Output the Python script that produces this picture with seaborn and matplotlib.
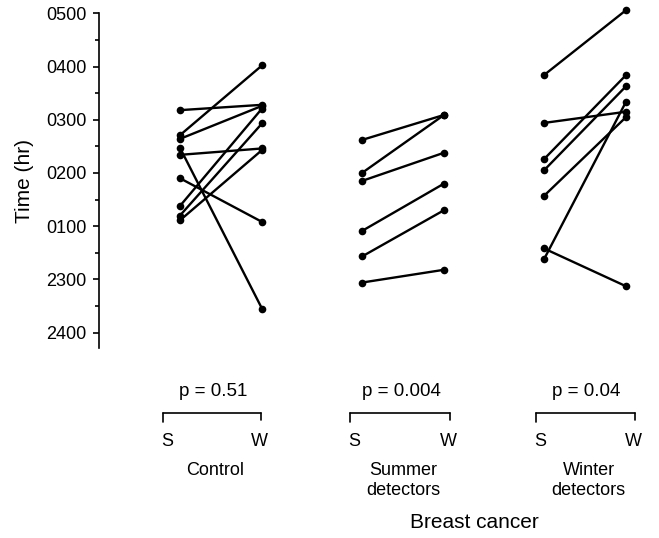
import numpy as np
import pandas as pd
import matplotlib.pyplot as plt
import seaborn as sns
from matplotlib.lines import Line2D

sns.set_style('ticks')
plt.rcParams['font.family'] = ['Liberation Sans', 'DejaVu Sans']
plt.rcParams['text.color'] = 'black'
plt.rcParams['axes.labelcolor'] = 'black'
plt.rcParams['ytick.color'] = 'black'
plt.rcParams['axes.edgecolor'] = 'black'

# clock time in axis units (0500 = 5 ... "2300" = 0, "2400" = -1)
groups = ['Control', 'Summer\ndetectors', 'Winter\ndetectors']
p_values = ['p = 0.51', 'p = 0.004', 'p = 0.04']
control_s = [3.18, 2.71, 2.64, 2.34, 2.47, 1.90, 1.38, 1.20, 1.11]
control_w = [3.28, 4.02, 3.26, 2.46, -0.55, 1.08, 3.21, 2.93, 2.43]
summer_s = [2.62, 2.00, 1.85, 0.91, 0.43, -0.06]
summer_w = [3.09, 3.09, 2.38, 1.80, 1.30, 0.18]
winter_s = [3.84, 2.94, 2.26, 2.05, 1.57, 0.58, 0.38]
winter_w = [5.06, 3.15, 3.84, 3.63, 3.05, -0.13, 3.34]
yticks = [5, 4, 3, 2, 1, 0, -1]
ytick_labels = ['0500', '0400', '0300', '0200', '0100', '2300', '2400']

rows = []
pairs = [(control_s, control_w), (summer_s, summer_w), (winter_s, winter_w)]
gap = 2.22
for g, (s_vals, w_vals) in enumerate(pairs):
    for i, (s, w) in enumerate(zip(s_vals, w_vals)):
        uid = f'{g}-{i}'
        rows.append({'id': uid, 'x': g * gap, 'time': s})
        rows.append({'id': uid, 'x': g * gap + 1, 'time': w})
df = pd.DataFrame(rows)

W, H = 659, 538
fig = plt.figure(figsize=(W / 100, H / 100), dpi=100)
ax = fig.add_axes([99 / W, (H - 348) / H, (655 - 99) / W, (348 - 13.3) / H])

sns.lineplot(data=df, x='x', y='time', units='id', estimator=None,
             color='black', linewidth=1.7, marker='o', markersize=5.5,
             markeredgewidth=0, ax=ax)
for line in ax.lines:
    line.set_clip_on(False)

ax.set_xlim((99 - 180) / 82, (655 - 180) / 82)
ax.set_ylim(-1.29, 5)
ax.set_yticks(yticks)
ax.set_yticklabels(ytick_labels, fontsize=13)
ax.set_yticks(np.arange(-0.5, 5, 1), minor=True)
ax.tick_params(axis='y', which='major', direction='out', length=4, width=1.2, pad=5)
ax.tick_params(axis='y', which='minor', direction='out', length=3, width=1.2)
ax.set_xticks([])
ax.set_xlabel('')
ax.set_ylabel('Time (hr)', fontsize=15, labelpad=9)
for side in ['top', 'right', 'bottom']:
    ax.spines[side].set_visible(False)
ax.spines['left'].set_linewidth(1.2)


def fx(px):
    return px / W


def fy(py):
    return 1 - py / H


# labels under each group (pixel positions from the figure)
s_px = [167, 354, 540]
w_px = [259, 448, 633]
for k in range(3):
    cx = (s_px[k] + w_px[k]) / 2
    fig.text(fx(cx), fy(391), p_values[k], ha='center', va='center', fontsize=13.5)
    fig.add_artist(Line2D([fx(s_px[k] - 4), fx(w_px[k] + 2)], [fy(413), fy(413)],
                          color='black', lw=1.2))
    fig.add_artist(Line2D([fx(s_px[k] - 4), fx(s_px[k] - 4)], [fy(413), fy(422)],
                          color='black', lw=1.2))
    fig.add_artist(Line2D([fx(w_px[k] + 2), fx(w_px[k] + 2)], [fy(413), fy(420)],
                          color='black', lw=1.2))
    fig.text(fx(s_px[k]), fy(442), 'S', ha='center', va='center', fontsize=13)
    fig.text(fx(w_px[k]), fy(442), 'W', ha='center', va='center', fontsize=13)
    fig.text(fx(cx + 2), fy(462), groups[k], ha='center', va='top', fontsize=13,
             linespacing=1.2)

fig.text(fx(474), fy(522), 'Breast cancer', ha='center', va='center', fontsize=15)

fig.savefig('out.png', dpi=100)
